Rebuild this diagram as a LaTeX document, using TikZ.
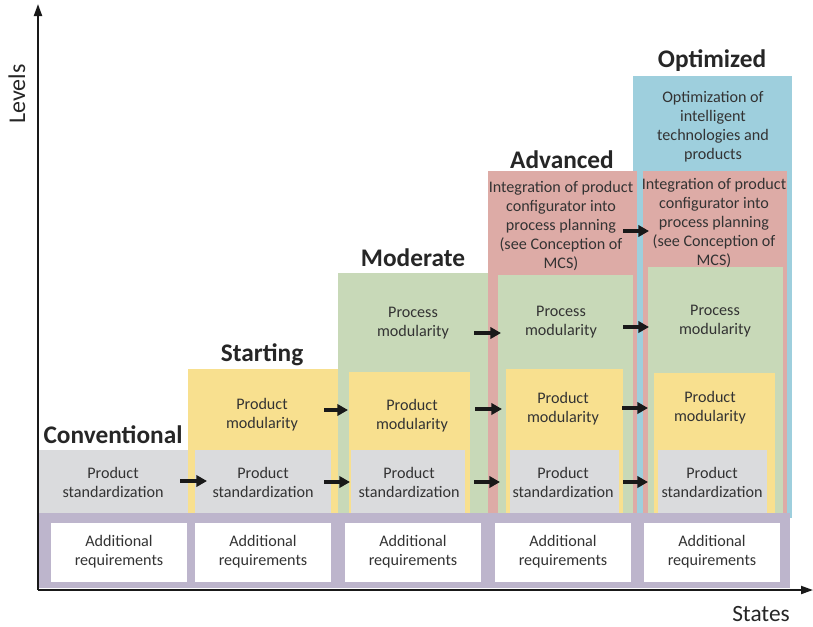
\documentclass[tikz,border=0pt]{standalone}
\usepackage{fontspec}
\setmainfont{Carlito}
\definecolor{stdgray}{HTML}{DADBDD}
\definecolor{modyellow}{HTML}{F8E08F}
\definecolor{procgreen}{HTML}{C8D9B8}
\definecolor{integred}{HTML}{DDABA6}
\definecolor{optblue}{HTML}{9ECFDD}
\definecolor{reqpurple}{HTML}{BDB5CC}
\definecolor{inktext}{HTML}{333333}
\usetikzlibrary{arrows.meta,positioning}

\begin{document}
\begin{tikzpicture}[x=0.75pt,y=-0.75pt,
  level/.style={font=\bfseries\fontsize{19}{22}\selectfont, text=black!85, inner sep=0},
  box/.style={align=center, font=\fontsize{12.1}{14.3}\selectfont, text=inktext, inner sep=0},
  req/.style={box, fill=white, minimum width=102pt, minimum height=44.25pt},
  flow/.style={-{Triangle[length=8pt,width=8.5pt]}, line width=2.3pt, black!90},
  axis/.style={-{Triangle[length=9pt,width=6pt]}, line width=1.5pt, black!90},
]
\useasboundingbox (0,0) rectangle (813,626);

% optimized
\fill[optblue] (633,76) rectangle (792,518);
\fill[integred] (643,171) rectangle (787,513);
\fill[procgreen] (648,267) rectangle (783,513);
\fill[modyellow] (654,373) rectangle (775,513);
\fill[stdgray] (658,450) rectangle (767,513);
% advanced
\fill[integred] (488,171) rectangle (637,513);
\fill[procgreen] (498,275) rectangle (633,513);
\fill[modyellow] (506,369) rectangle (623,513);
\fill[stdgray] (510,450) rectangle (619,513);
% moderate
\fill[procgreen] (338,273) rectangle (488,513);
\fill[modyellow] (349,372) rectangle (470,513);
\fill[stdgray] (351,450) rectangle (465,513);
% starting
\fill[modyellow] (188,369) rectangle (338,513);
\fill[stdgray] (195,450) rectangle (331,513);
% conventional
\fill[stdgray] (39,450) rectangle (188,513);
% base
\fill[reqpurple] (39,513) rectangle (790,588);
\foreach \x [count=\n] in {51,195,345,495,644}
  \node[req] (req\n) at (\x+68,552) {Additional\\requirements};

% titles
\node[level] (conventional) at (113,435) {Conventional};
\node[level] (starting) at (262,355) {Starting};
\node[level] (moderate) at (413,258) {Moderate};
\node[level] (advanced) at (562,160) {Advanced};
\node[level] (optimized) at (712,61) {Optimized};

% texts
\node[box] (conv-std) at (113,482) {Product\\standardization};
\node[box] (start-std) at (263,482) {Product\\standardization};
\node[box] (mod-std) at (409,482) {Product\\standardization};
\node[box] (adv-std) at (563,482) {Product\\standardization};
\node[box] (opt-std) at (712,482) {Product\\standardization};
\node[box] (start-mod) at (262,415) {Product\\modularity};
\node[box] (mod-mod) at (412,416) {Product\\modularity};
\node[box] (adv-mod) at (563,409) {Product\\modularity};
\node[box] (opt-mod) at (710,408) {Product\\modularity};
\node[box] (mod-proc) at (413,323) {Process\\modularity};
\node[box] (adv-proc) at (561,322) {Process\\modularity};
\node[box] (opt-proc) at (715,321) {Process\\modularity};
\node[box] (adv-int) at (561,226) {Integration of product\\configurator into\\process planning\\(see Conception of\\MCS)};
\node[box] (opt-int) at (714,223) {Integration of product\\configurator into\\process planning\\(see Conception of\\MCS)};
\node[box] (opt-opt) at (713,127) {Optimization of\\intelligent\\technologies and\\products};

% arrows between states
\foreach \a/\b/\y [count=\i] in {180/207/481, 324/350/482, 474/500/482, 623/648/482,
    324/348/410, 475/502/409, 622/648/408, 474/501/333, 623/649/327, 623/649/231} {
  \coordinate (f\i) at (\a,\y);
  \coordinate (t\i) at (\b,\y);
  \draw[flow] (f\i) -- (t\i);
}

% axes
\coordinate (origin) at (38,590);
\coordinate (ytop) at (38,4);
\coordinate (xend) at (813,590);
\draw[axis] (origin) -- (ytop);
\draw[axis] (origin) -- (xend);
\node[font=\fontsize{18}{22}\selectfont, text=black!85, rotate=90, inner sep=0] (levels) at (17,94) {Levels};
\node[font=\fontsize{17.5}{22}\selectfont, text=black!85, inner sep=0] (states) at (761,614) {States};
\end{tikzpicture}
\end{document}
